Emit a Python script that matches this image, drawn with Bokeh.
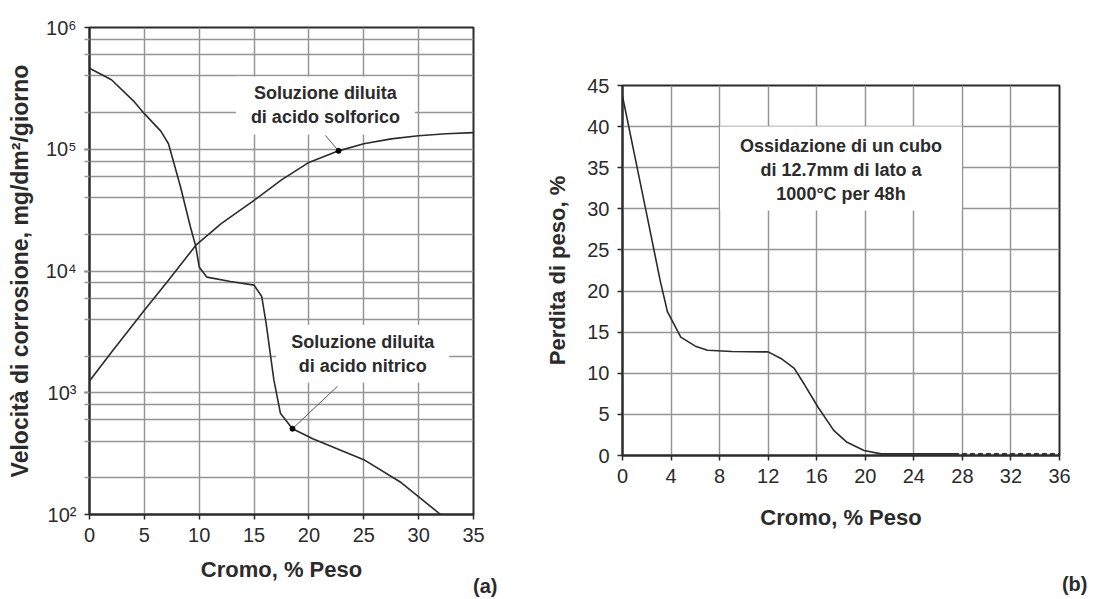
from bokeh.plotting import figure
from bokeh.layouts import row
from bokeh.models import FixedTicker, CustomJSTickFormatter, Label, Range1d, Title
from bokeh.embed import file_html
from bokeh.resources import INLINE

FONT = "Liberation Sans"
GRID = "#959595"
INK = "#2b2b2b"

# ---------------- data: panel (a) ----------------
sulf_x = [0, 2, 5, 7.2, 9.7, 12, 15, 17.5, 20, 22.7, 25, 27.5, 30, 32.5, 35]
sulf_y = [1250, 2150, 4750, 8400, 16300, 24500, 38000, 56000, 78000, 97000,
          111000, 121600, 129000, 134000, 137000]

nitr_x = [0, 2, 4, 5, 6.5, 7.2, 8.3, 9.2, 9.66, 10, 10.7, 12.85, 15, 15.7, 16.1,
          16.8, 17.4, 18.5, 20.4, 25, 28.4, 32]
nitr_y = [463000, 372000, 250000, 196000, 141000, 111000, 49000, 23000, 16300,
          10800, 8900, 8200, 7650, 6170, 3720, 1280, 680, 507, 417, 282,
          183, 100]

a_xticks = [0, 5, 10, 15, 20, 25, 30, 35]
a_decades = [1e2, 1e3, 1e4, 1e5, 1e6]
a_ygrid = [2e2, 4e2, 6e2, 8e2, 1e3, 2e3, 4e3, 6e3, 8e3, 1e4, 2e4, 4e4, 6e4, 8e4,
           1e5, 2e5, 4e5, 6e5, 8e5]

# marker points and leaders
a_mark_x = [22.7, 18.5]
a_mark_y = [97000, 507]
a_lead_x0 = [21.5, 22.6]
a_lead_y0 = [130000, 1130]

a_label_sulf = "Soluzione diluita\ndi acido solforico"
a_label_nitr = "Soluzione diluita\ndi acido nitrico"
a_label_sulf_pos = (21.5, 229000)
a_label_nitr_pos = (24.9, 2090)

# ---------------- data: panel (b) ----------------
ox_x = [0, 1, 2, 3.1, 3.7, 4.8, 6, 7, 9, 12, 13.05, 14.15, 15, 16.1, 17.4, 18.5,
        19.9, 21.3, 24, 27.3]
ox_y = [43.7, 36.5, 29.3, 21.3, 17.5, 14.4, 13.3, 12.8, 12.65, 12.6, 11.8, 10.6,
        8.6, 5.9, 3.05, 1.6, 0.6, 0.2, 0.2, 0.2]
ox_dash_x = [27.3, 36]
ox_dash_y = [0.2, 0.2]

b_xticks = [0, 4, 8, 12, 16, 20, 24, 28, 32, 36]
b_yticks = [0, 5, 10, 15, 20, 25, 30, 35, 40, 45]
b_label = "Ossidazione di un cubo\ndi 12.7mm di lato a\n1000°C per 48h"
b_label_pos = (18.0, 34.9)


def style_axes(p):
    for ax in (p.xaxis[0], p.yaxis[0]):
        ax.axis_line_color = INK
        ax.axis_line_width = 2
        ax.major_tick_line_color = INK
        ax.major_tick_line_width = 1.5
        ax.major_tick_out = 5
        ax.major_tick_in = 0
        ax.minor_tick_in = 0
        ax.major_label_text_font = FONT
        ax.major_label_text_font_size = "20px"
        ax.major_label_text_color = INK
        ax.axis_label_text_font = FONT
        ax.axis_label_text_font_style = "bold"
        ax.axis_label_text_font_size = "22px"
        ax.axis_label_text_color = INK
        ax.major_label_standoff = 8
        ax.axis_label_standoff = 14
    p.outline_line_color = INK
    p.outline_line_width = 2
    p.outline_line_alpha = 1
    for g in (p.xgrid[0], p.ygrid[0]):
        g.grid_line_color = GRID
        g.grid_line_width = 1.5
    p.background_fill_color = "white"
    p.border_fill_color = "white"


def text_label(p, x, y, txt, size, pad):
    p.add_layout(Label(x=x, y=y, text=txt, text_align="center",
                       text_baseline="middle", text_font=FONT,
                       text_font_style="bold", text_font_size=size,
                       text_color=INK, text_line_height=1.2,
                       background_fill_color="white", padding=pad))


def panel_tag(p, txt, offset, standoff):
    p.add_layout(Title(text=txt, align="right", offset=offset,
                       text_font=FONT, text_font_style="bold",
                       text_font_size="20px", text_color=INK,
                       standoff=standoff), "below")


# ---------------- panel (a) ----------------
p1 = figure(frame_width=384, frame_height=487, y_axis_type="log",
            x_range=Range1d(0, 35), y_range=Range1d(100, 1e6),
            output_backend="svg", toolbar_location=None,
            min_border_left=89, min_border_right=45,
            min_border_top=27, min_border_bottom=83)
p1.frame_align = False
style_axes(p1)
p1.xaxis.ticker = FixedTicker(ticks=a_xticks)
p1.xgrid.ticker = FixedTicker(ticks=a_xticks)
p1.yaxis.ticker = FixedTicker(ticks=a_decades, minor_ticks=a_ygrid)
p1.ygrid.ticker = FixedTicker(ticks=a_ygrid)
p1.yaxis.minor_tick_out = 5
p1.yaxis.minor_tick_line_color = GRID
p1.yaxis.minor_tick_line_width = 1.5
p1.xaxis.minor_tick_line_color = None
p1.yaxis.formatter = CustomJSTickFormatter(code="""
const sup = {'0':'\u2070','1':'\u00b9','2':'\u00b2','3':'\u00b3','4':'\u2074','5':'\u2075','6':'\u2076'};
const e = String(Math.round(Math.log10(tick)));
return '10' + e.split('').map(c => sup[c]).join('');
""")
p1.xaxis.axis_label = "Cromo, % Peso"
p1.xaxis.axis_label_standoff = 12
p1.yaxis.axis_label = "Velocità di corrosione, mg/dm²/giorno"
p1.yaxis.axis_label_text_font_size = "23px"
p1.yaxis.axis_label_standoff = 10

p1.line(sulf_x, sulf_y, line_color=INK, line_width=1.6)
p1.line(nitr_x, nitr_y, line_color=INK, line_width=1.6)
p1.segment(a_lead_x0, a_lead_y0, a_mark_x, a_mark_y, line_color="#555555", line_width=1)
p1.scatter(a_mark_x, a_mark_y, size=5, color="black")

text_label(p1, *a_label_sulf_pos, a_label_sulf, "18px",
           dict(left=15, right=15, top=7, bottom=7))
text_label(p1, *a_label_nitr_pos, a_label_nitr, "18px",
           dict(left=15, right=15, top=7, bottom=7))

panel_tag(p1, "(a)", -24, -23)

# ---------------- panel (b) ----------------
p2 = figure(frame_width=437, frame_height=370,
            x_range=Range1d(0, 36), y_range=Range1d(0, 45),
            output_backend="svg", toolbar_location=None,
            min_border_left=104, min_border_right=34,
            min_border_top=85, min_border_bottom=142)
p2.frame_align = False
style_axes(p2)
p2.xaxis.ticker = FixedTicker(ticks=b_xticks)
p2.xgrid.ticker = FixedTicker(ticks=b_xticks)
p2.yaxis.ticker = FixedTicker(ticks=b_yticks)
p2.ygrid.ticker = FixedTicker(ticks=b_yticks)
p2.xaxis.axis_label = "Cromo, % Peso"
p2.yaxis.axis_label = "Perdita di peso, %"
p2.yaxis.axis_label_standoff = 14
p2.xaxis.axis_label_standoff = 19

p2.line(ox_x, ox_y, line_color=INK, line_width=1.6)
p2.line(ox_dash_x, ox_dash_y, line_color=INK, line_width=1.6, line_dash="5 3")

text_label(p2, *b_label_pos, b_label, "18px",
           dict(left=20, right=20, top=9, bottom=7))

panel_tag(p2, "(b)", -28, 77)

layout = row(p1, p2)
open("out.html", "w").write(file_html(layout, INLINE))
